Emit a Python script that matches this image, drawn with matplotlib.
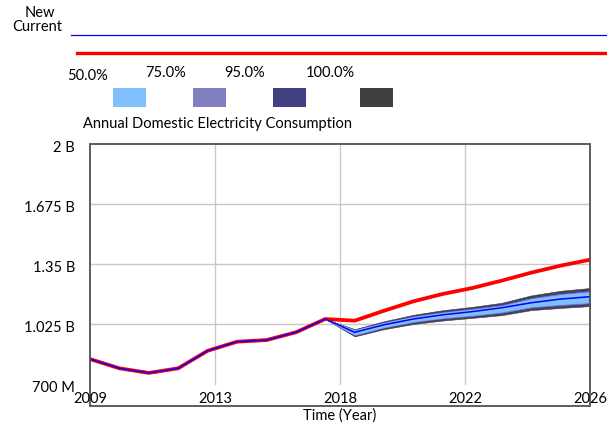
import matplotlib
matplotlib.use('Agg')
import matplotlib.pyplot as plt
from matplotlib.patches import Rectangle
from matplotlib.lines import Line2D

plt.rcParams['font.family'] = ['Lato', 'DejaVu Sans']
plt.rcParams['font.size'] = 10.5

# historical years (both runs identical)
hist_years = [2009, 2010, 2011, 2012, 2013, 2014, 2015, 2016, 2017]
hist_vals = [0.835, 0.785, 0.760, 0.785, 0.880, 0.929, 0.938, 0.980, 1.052]

# projection years (start at 2017 so the band joins the history)
proj_years = [2017, 2018, 2019, 2020, 2021, 2022, 2023, 2024, 2025, 2026]
current = [1.052, 1.043, 1.097, 1.148, 1.188, 1.220, 1.260, 1.303, 1.341, 1.373]
new_mean = [1.052, 0.980, 1.021, 1.052, 1.075, 1.092, 1.113, 1.140, 1.160, 1.173]

p100_lo = [1.052, 0.958, 0.997, 1.025, 1.044, 1.058, 1.073, 1.100, 1.112, 1.122]
p100_hi = [1.052, 0.997, 1.040, 1.075, 1.100, 1.118, 1.140, 1.180, 1.205, 1.220]
p95_lo = [1.052, 0.961, 1.001, 1.030, 1.049, 1.063, 1.079, 1.106, 1.118, 1.128]
p95_hi = [1.052, 0.995, 1.037, 1.071, 1.095, 1.113, 1.134, 1.173, 1.198, 1.213]
p75_lo = [1.052, 0.965, 1.006, 1.036, 1.056, 1.070, 1.087, 1.115, 1.128, 1.138]
p75_hi = [1.052, 0.993, 1.033, 1.066, 1.089, 1.107, 1.127, 1.165, 1.188, 1.203]
p50_lo = [1.052, 0.968, 1.009, 1.040, 1.060, 1.074, 1.092, 1.120, 1.133, 1.143]
p50_hi = [1.052, 0.991, 1.031, 1.063, 1.086, 1.103, 1.122, 1.160, 1.183, 1.197]

band_labels = ['50.0%', '75.0%', '95.0%', '100.0%']
band_colors = ['#80C0FF', '#8080C0', '#404080', '#404040']

y_ticks = [0.7, 1.025, 1.35, 1.675, 2.0]
y_labels = ['700 M', '1.025 B', '1.35 B', '1.675 B', '2 B']
x_ticks = [2009, 2013.25, 2017.5, 2021.75, 2026]
x_labels = ['2009', '2013', '2018', '2022', '2026']

W, H = 607, 427
fig = plt.figure(figsize=(W / 100, H / 100), dpi=100)


def fx(px):
    return px / W


def fy(py):
    return 1 - py / H


ax = fig.add_axes([fx(90), fy(385), fx(590) - fx(90), fy(145) - fy(385)])
ax.set_xlim(2009, 2026)
ax.set_ylim(0.7, 2.0)
for s in ax.spines.values():
    s.set_visible(False)
ax.set_xticks([])
ax.set_yticks([])

for yv in y_ticks[1:4]:
    ax.axhline(yv, color='#C8C8C8', lw=1, zorder=0)
for xv in x_ticks[1:4]:
    ax.plot([xv, xv], [0.7, 2.0], color='#C8C8C8', lw=1, zorder=0, clip_on=False)

ax.plot(hist_years + proj_years[1:], hist_vals + current[1:], color='#FF0000', lw=2.7,
        solid_joinstyle='round', zorder=2)

bands = [(p100_lo, p100_hi), (p95_lo, p95_hi), (p75_lo, p75_hi), (p50_lo, p50_hi)]
for (lo, hi), c in zip(bands, band_colors[::-1]):
    ax.fill_between(proj_years, lo, hi, color=c, lw=0.4, edgecolor=c, zorder=3)

ax.plot(hist_years + proj_years[1:], hist_vals + new_mean[1:], color='#0000FF', lw=1.1, zorder=4)

# frame (extends below the tick labels)
fig.patches.append(Rectangle((fx(90), fy(407)), fx(590) - fx(90), fy(145) - fy(407),
                             transform=fig.transFigure, fill=False, ec='#505050', lw=1.3))

for yv, lab in zip(y_ticks, y_labels):
    py = 145 + (2.0 - yv) / 1.3 * 240
    fig.text(fx(75), fy(py + 3), lab, ha='right', va='center')
for xv, lab in zip(x_ticks, x_labels):
    px = 90 + (xv - 2009) / 17 * 500
    fig.text(fx(px), fy(399), lab, ha='center', va='center')
fig.text(fx(340), fy(416), 'Time (Year)', ha='center', va='center')

# legend
fig.text(fx(40), fy(13), 'New', ha='center', va='center')
fig.text(fx(62), fy(27), 'Current', ha='right', va='center')
fig.lines.append(Line2D([fx(71), 1], [fy(36), fy(36)], color='#0000FF', lw=0.9,
                        transform=fig.transFigure))
fig.lines.append(Line2D([fx(77), 1], [fy(54), fy(54)], color='#FF0000', lw=2.4,
                        transform=fig.transFigure))

lab_x = [87, 166, 245, 330]
lab_y = [76, 73, 73, 73]
sq_x = [113, 193, 273, 360]
for lx, ly, sx, lab, c in zip(lab_x, lab_y, sq_x, band_labels, band_colors):
    fig.text(fx(lx), fy(ly), lab, ha='center', va='center')
    fig.patches.append(Rectangle((fx(sx), fy(108)), fx(33), fy(0) - fy(19),
                                 transform=fig.transFigure, color=c, lw=0))
fig.text(fx(83), fy(124), 'Annual Domestic Electricity Consumption', ha='left', va='center')

fig.savefig('out.png', dpi=100)
